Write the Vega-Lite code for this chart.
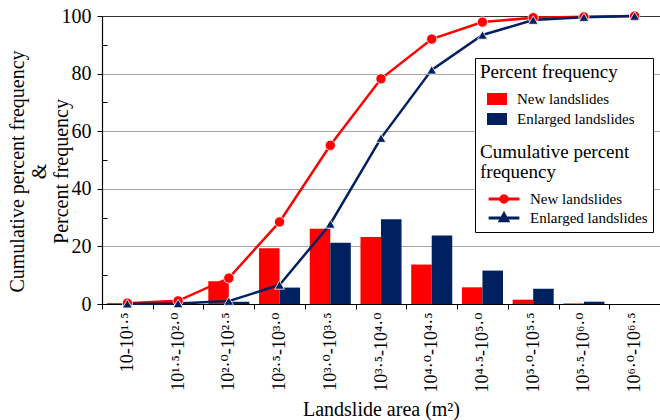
{
  "$schema": "https://vega.github.io/schema/vega-lite/v6.json",
  "width": 558,
  "height": 288,
  "autosize": {"type": "none"},
  "padding": {"left": 102, "top": 16, "right": 0, "bottom": 116},
  "background": "white",
  "config": {
    "view": {"stroke": null},
    "font": "Liberation Serif",
    "axis": {"labelFont": "Liberation Serif, DejaVu Serif", "titleFont": "Liberation Serif", "labelColor": "black", "titleColor": "black", "domainColor": "black", "tickColor": "black", "titleFontWeight": "normal"},
    "legend": {"labelFont": "Liberation Serif", "titleFont": "Liberation Serif", "labelColor": "black", "titleColor": "black", "titleFontWeight": "normal"}
  },
  "data": {
    "values": [
      {"area": "10-10¹·⁵", "series": "New landslides", "pct": 0.3, "cum": 0.3},
      {"area": "10-10¹·⁵", "series": "Enlarged landslides", "pct": 0.1, "cum": 0.1},
      {"area": "10¹·⁵-10²·⁰", "series": "New landslides", "pct": 0.8, "cum": 1.1},
      {"area": "10¹·⁵-10²·⁰", "series": "Enlarged landslides", "pct": 0.1, "cum": 0.2},
      {"area": "10²·⁰-10²·⁵", "series": "New landslides", "pct": 7.9, "cum": 9.0},
      {"area": "10²·⁰-10²·⁵", "series": "Enlarged landslides", "pct": 0.8, "cum": 1.0},
      {"area": "10²·⁵-10³·⁰", "series": "New landslides", "pct": 19.4, "cum": 28.5},
      {"area": "10²·⁵-10³·⁰", "series": "Enlarged landslides", "pct": 5.7, "cum": 6.6},
      {"area": "10³·⁰-10³·⁵", "series": "New landslides", "pct": 26.1, "cum": 55.1},
      {"area": "10³·⁰-10³·⁵", "series": "Enlarged landslides", "pct": 21.3, "cum": 27.8},
      {"area": "10³·⁵-10⁴·⁰", "series": "New landslides", "pct": 23.3, "cum": 78.2},
      {"area": "10³·⁵-10⁴·⁰", "series": "Enlarged landslides", "pct": 29.4, "cum": 57.6},
      {"area": "10⁴·⁰-10⁴·⁵", "series": "New landslides", "pct": 13.7, "cum": 92.0},
      {"area": "10⁴·⁰-10⁴·⁵", "series": "Enlarged landslides", "pct": 23.8, "cum": 81.3},
      {"area": "10⁴·⁵-10⁵·⁰", "series": "New landslides", "pct": 5.8, "cum": 97.9},
      {"area": "10⁴·⁵-10⁵·⁰", "series": "Enlarged landslides", "pct": 11.6, "cum": 93.4},
      {"area": "10⁵·⁰-10⁵·⁵", "series": "New landslides", "pct": 1.5, "cum": 99.4},
      {"area": "10⁵·⁰-10⁵·⁵", "series": "Enlarged landslides", "pct": 5.3, "cum": 98.6},
      {"area": "10⁵·⁵-10⁶·⁰", "series": "New landslides", "pct": 0.2, "cum": 99.7},
      {"area": "10⁵·⁵-10⁶·⁰", "series": "Enlarged landslides", "pct": 0.8, "cum": 99.6},
      {"area": "10⁶·⁰-10⁶·⁵", "series": "New landslides", "pct": 0, "cum": 100},
      {"area": "10⁶·⁰-10⁶·⁵", "series": "Enlarged landslides", "pct": 0, "cum": 100}
    ]
  },
  "layer": [
    {
      "mark": {"type": "bar"},
      "encoding": {
        "x": {
          "field": "area", "type": "nominal", "sort": null,
          "scale": {"paddingInner": 0, "paddingOuter": 0},
          "axis": {"title": "Landslide area (m²)", "titleFontSize": 20, "titleBaseline": "alphabetic", "titleY": 111, "labelAngle": -90, "labelFontSize": 18, "labelPadding": 3, "tickBand": "extent", "tickSize": 5, "domainWidth": 1.2, "grid": false}
        },
        "xOffset": {"field": "series", "type": "nominal", "sort": ["New landslides", "Enlarged landslides"], "scale": {"paddingOuter": 0.236, "paddingInner": 0}},
        "y": {
          "field": "pct", "type": "quantitative",
          "scale": {"domain": [0, 100], "nice": false},
          "axis": {
            "values": [0, 20, 40, 60, 80, 100], "tickSize": 5, "labelFont": "Liberation Serif", "labelFontSize": 20, "labelPadding": 6,
            "grid": true, "gridColor": {"condition": {"test": "datum.value === 100", "value": "#333333"}, "value": "#a6a6a6"}, "gridWidth": 1.2,
            "domainWidth": 1.2,
            "title": ["Cumulative percent frequency", "&", "Percent frequency"], "titleFontSize": 20, "titleLineHeight": 22,
            "titleX": -85, "titleY": 155, "titleAngle": -90, "titleAlign": "center", "titleBaseline": "middle"
          }
        },
        "color": {
          "field": "series", "type": "nominal",
          "scale": {"domain": ["New landslides", "Enlarged landslides"], "range": ["#ff0000", "#002060"]},
          "legend": {
            "title": "Percent frequency", "orient": "none", "legendX": 373, "legendY": 42, "padding": 5, "zindex": 3,
            "titleFontSize": 19, "titlePadding": 7, "labelFontSize": 15,
            "symbolType": "M-1,-0.6H1V0.6H-1Z", "symbolSize": 400, "symbolStrokeWidth": 0, "symbolOffset": 7, "labelOffset": 10, "rowPadding": 2
          }
        }
      }
    },
    {
      "mark": {"type": "line", "strokeWidth": 2.5},
      "encoding": {
        "x": {"field": "area", "type": "nominal", "sort": null},
        "y": {"field": "cum", "type": "quantitative", "axis": {"orient": "left", "values": [10, 30, 50, 70, 90], "tickSize": -5, "labels": false, "domain": false, "grid": false, "title": null}},
        "stroke": {
          "field": "series", "type": "nominal",
          "scale": {"domain": ["Enlarged landslides", "New landslides"], "range": ["#002060", "#ff0000"]},
          "legend": {
            "values": ["New landslides", "Enlarged landslides"],
            "title": ["\u200b", "\u200b", "\u200b", "\u200b", "Cumulative percent", "frequency"], "titleLineHeight": 20,
            "orient": "none", "legendX": 373, "legendY": 42, "padding": 5, "zindex": 1,
            "fillColor": "white", "strokeColor": "black",
            "titleFontSize": 19, "titlePadding": 8, "labelFontSize": 15,
            "symbolSize": 225, "symbolStrokeWidth": 3, "symbolOffset": 15, "labelOffset": 17, "rowPadding": -12,
            "encode": {
              "symbols": {
                "update": {
                  "shape": {"signal": "datum.value === 'New landslides' ? 'M-2.05,0H2.05M0.43,0A0.43,0.43,0,1,1,-0.43,0A0.43,0.43,0,1,1,0.43,0Z' : 'M-2.05,0H2.05M0,-0.55L0.5,0.38H-0.5Z'"},
                  "fill": {"signal": "datum.value === 'New landslides' ? '#ff0000' : '#002060'"}
                }
              }
            }
          }
        }
      }
    },
    {
      "transform": [{"filter": "datum.series === 'New landslides'"}],
      "mark": {"type": "point", "shape": "circle", "filled": true, "opacity": 1, "color": "#ff0000", "stroke": "white", "strokeWidth": 0.8, "size": 105},
      "encoding": {
        "x": {"field": "area", "type": "nominal", "sort": null},
        "y": {"field": "cum", "type": "quantitative", "axis": null}
      }
    },
    {
      "transform": [{"filter": "datum.series === 'Enlarged landslides'"}],
      "mark": {"type": "point", "shape": "triangle-up", "filled": true, "opacity": 1, "color": "#002060", "stroke": "white", "strokeWidth": 0.8, "size": 95},
      "encoding": {
        "x": {"field": "area", "type": "nominal", "sort": null},
        "y": {"field": "cum", "type": "quantitative", "axis": null}
      }
    }
  ],
  "resolve": {"axis": {"y": "independent"}}
}
